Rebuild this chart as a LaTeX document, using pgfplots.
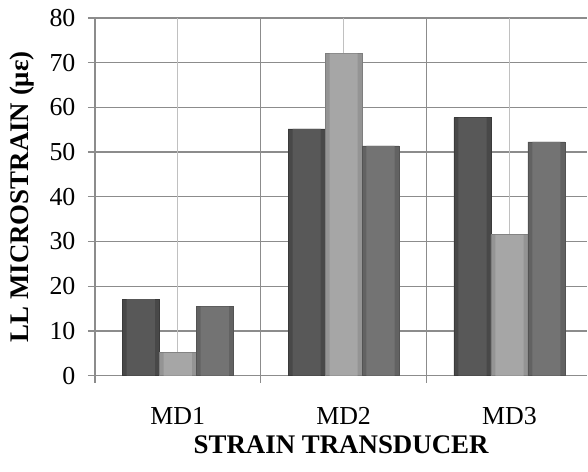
\documentclass[border=0pt]{standalone}
\usepackage{pgfplots}
\pgfplotsset{compat=1.18}
\usepackage{fontspec}
\setmainfont{Liberation Serif}
\definecolor{gridd}{HTML}{8C8C8C}
\definecolor{gridl}{HTML}{C0C0C0}
\definecolor{darkA}{HTML}{484848}
\definecolor{darkB}{HTML}{585858}
\definecolor{lightA}{HTML}{949494}
\definecolor{lightB}{HTML}{A6A6A6}
\definecolor{medA}{HTML}{626262}
\definecolor{medB}{HTML}{737373}
\pgfplotstableread{
x a b c
0 17.1 5.1 15.4
1 55.2 72.0 51.4
2 57.7 31.5 52.3
}\data
\begin{document}
\begin{tikzpicture}
\begin{axis}[
  scale only axis, width=493bp, height=358bp,
  xmin=-0.5, xmax=2.47, ymin=0, ymax=80,
  axis x line*=bottom, axis y line*=left,
  axis line style={gridd, line width=1.3pt},
  ytick={0,10,...,80},
  xtick={-0.5,0.5,1.5}, xticklabels={},
  extra x ticks={0,1,2}, extra x tick labels={MD1,MD2,MD3},
  extra x tick style={major tick length=0pt, grid=major,
     major grid style={gridl, line width=1.3pt},
     xticklabel style={yshift=-28bp}},
  grid=major, major grid style={gridd, line width=1.3pt},
  tick style={gridd, line width=1.3pt},
  tick align=outside, major tick length=7bp,
  tick label style={font=\fontsize{26}{26}\selectfont},
  yticklabel style={xshift=-9bp},
  /pgf/number format/assume math mode=true,
  xlabel={STRAIN TRANSDUCER}, ylabel={LL MICROSTRAIN (με)},
  label style={font=\fontsize{27}{27}\selectfont\bfseries},
  xlabel style={yshift=3bp},
  ylabel style={yshift=8bp},
  ybar, bar width=0.223,
  clip=false,
]
\addplot[bar shift=-0.223, draw=darkA!80!black, line width=0.6pt, fill=darkA] table[x=x,y=a]{\data};
\addplot[bar shift=0, draw=lightA!85!black, line width=0.6pt, fill=lightA] table[x=x,y=b]{\data};
\addplot[bar shift=0.223, draw=medA!85!black, line width=0.6pt, fill=medA] table[x=x,y=c]{\data};
\addplot[bar shift=-0.223, bar width=0.17, draw=none, fill=darkB] table[x=x,y=a]{\data};
\addplot[bar shift=0, bar width=0.17, draw=none, fill=lightB] table[x=x,y=b]{\data};
\addplot[bar shift=0.223, bar width=0.17, draw=none, fill=medB] table[x=x,y=c]{\data};
\coordinate (ll) at (rel axis cs:0,0);
\coordinate (tr) at (rel axis cs:1,1);
\end{axis}
\path (ll) ++(-95bp,-96bp);
\path (tr) ++(0,18bp);
\end{tikzpicture}
\end{document}
